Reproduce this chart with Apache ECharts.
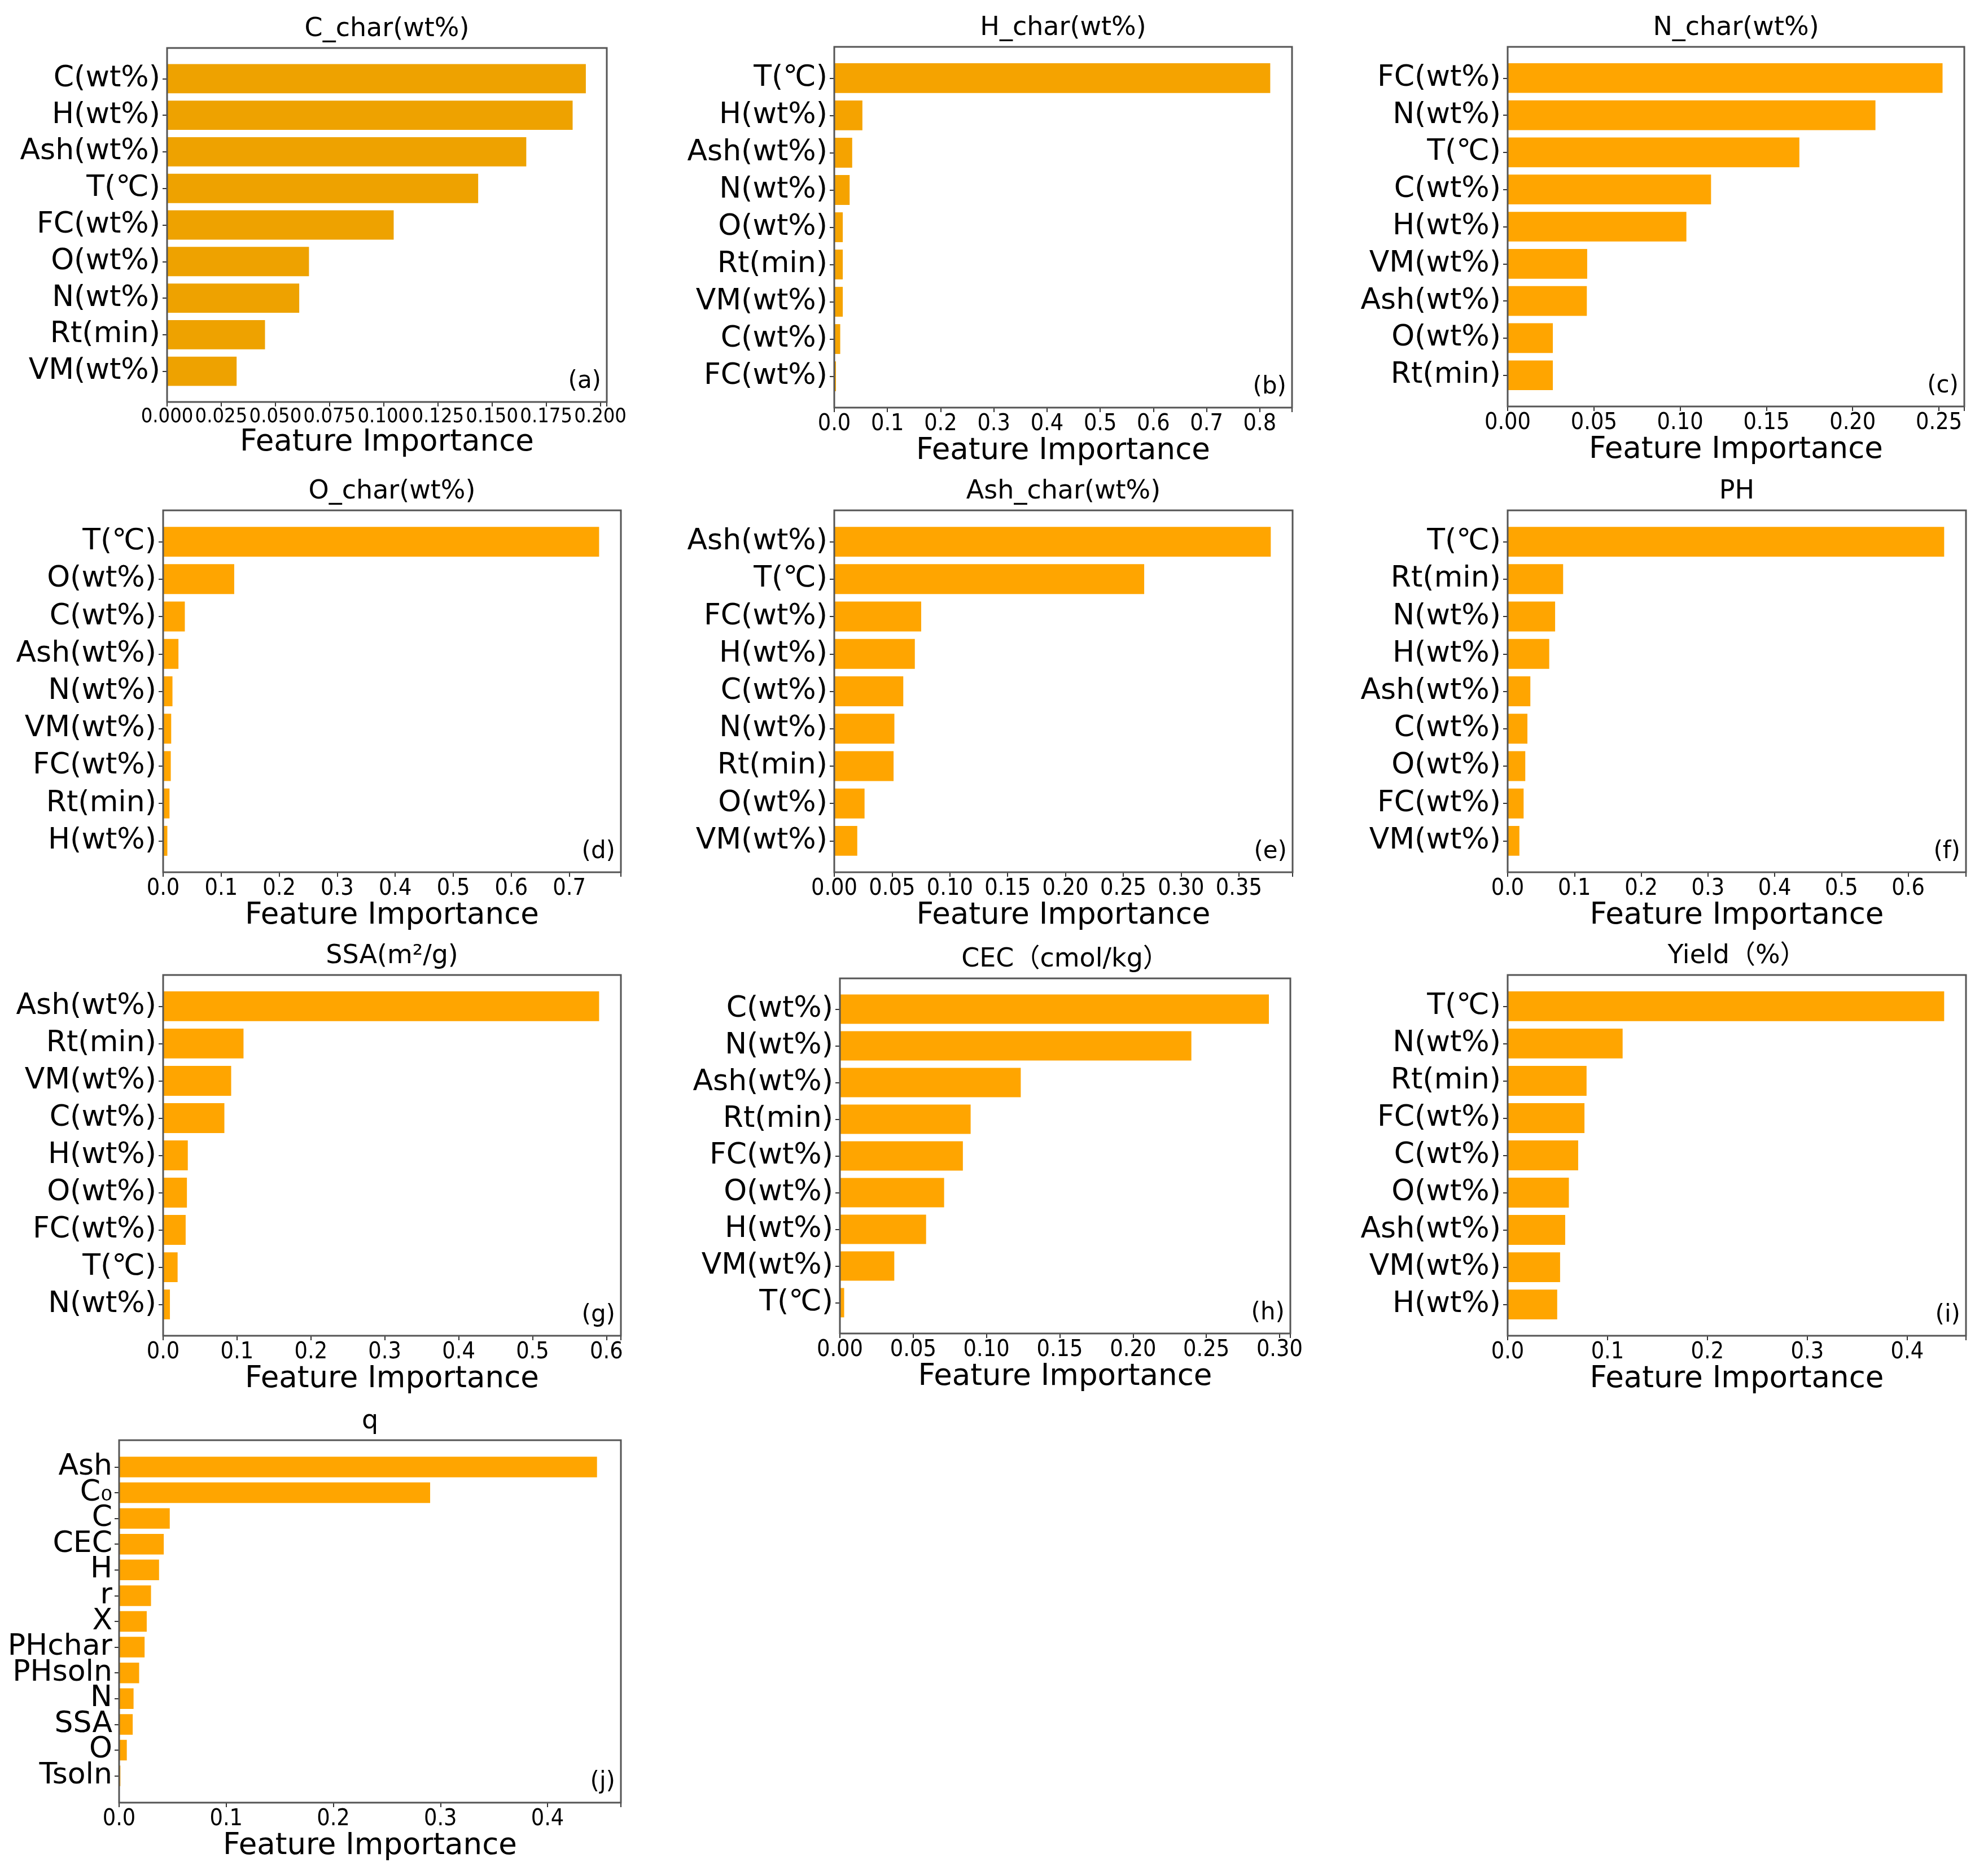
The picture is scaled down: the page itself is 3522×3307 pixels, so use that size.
<!DOCTYPE html>
<html>
<head>
<meta charset="utf-8">
<title>Feature Importance</title>
<script src="https://cdn.jsdelivr.net/npm/echarts@6.0.0/dist/echarts.min.js"></script>
<style>
html, body { margin: 0; padding: 0; background: #fff; }
#chart { width: 3522px; height: 3307px; }
</style>
</head>
<body>
<div id="chart"></div>
<script>
// 子图标题和编号
const panelTitles = ['C_char(wt%)', 'H_char(wt%)', 'N_char(wt%)', 'O_char(wt%)', 'Ash_char(wt%)', 'PH', 'SSA(m²/g)', 'CEC（cmol/kg）', 'Yield（%）', 'q'];
const panelTags = ['(a)', '(b)', '(c)', '(d)', '(e)', '(f)', '(g)', '(h)', '(i)', '(j)'];

// (a) C_char
const cCharFeatures = ['C(wt%)', 'H(wt%)', 'Ash(wt%)', 'T(℃)', 'FC(wt%)', 'O(wt%)', 'N(wt%)', 'Rt(min)', 'VM(wt%)'];
const cCharImportance = [0.1933, 0.1872, 0.1658, 0.1436, 0.1046, 0.0655, 0.0610, 0.0452, 0.0321];
// (b) H_char
const hCharFeatures = ['T(℃)', 'H(wt%)', 'Ash(wt%)', 'N(wt%)', 'O(wt%)', 'Rt(min)', 'VM(wt%)', 'C(wt%)', 'FC(wt%)'];
const hCharImportance = [0.8196, 0.0529, 0.0337, 0.0289, 0.0160, 0.0160, 0.0160, 0.0112, 0.0032];
// (c) N_char
const nCharFeatures = ['FC(wt%)', 'N(wt%)', 'T(℃)', 'C(wt%)', 'H(wt%)', 'VM(wt%)', 'Ash(wt%)', 'O(wt%)', 'Rt(min)'];
const nCharImportance = [0.2521, 0.2132, 0.1691, 0.1179, 0.1036, 0.0461, 0.0459, 0.0262, 0.0262];
// (d) O_char
const oCharFeatures = ['T(℃)', 'O(wt%)', 'C(wt%)', 'Ash(wt%)', 'N(wt%)', 'VM(wt%)', 'FC(wt%)', 'Rt(min)', 'H(wt%)'];
const oCharImportance = [0.7513, 0.1225, 0.0374, 0.0264, 0.0161, 0.0139, 0.0132, 0.0110, 0.0073];
// (e) Ash_char
const ashCharFeatures = ['Ash(wt%)', 'T(℃)', 'FC(wt%)', 'H(wt%)', 'C(wt%)', 'N(wt%)', 'Rt(min)', 'O(wt%)', 'VM(wt%)'];
const ashCharImportance = [0.3776, 0.2681, 0.0752, 0.0697, 0.0597, 0.0520, 0.0513, 0.0262, 0.0199];
// (f) PH
const phFeatures = ['T(℃)', 'Rt(min)', 'N(wt%)', 'H(wt%)', 'Ash(wt%)', 'C(wt%)', 'O(wt%)', 'FC(wt%)', 'VM(wt%)'];
const phImportance = [0.6539, 0.0831, 0.0711, 0.0623, 0.0340, 0.0296, 0.0264, 0.0239, 0.0176];
// (g) SSA
const ssaFeatures = ['Ash(wt%)', 'Rt(min)', 'VM(wt%)', 'C(wt%)', 'H(wt%)', 'O(wt%)', 'FC(wt%)', 'T(℃)', 'N(wt%)'];
const ssaImportance = [0.5901, 0.1088, 0.0921, 0.0829, 0.0334, 0.0322, 0.0305, 0.0196, 0.0092];
// (h) CEC
const cecFeatures = ['C(wt%)', 'N(wt%)', 'Ash(wt%)', 'Rt(min)', 'FC(wt%)', 'O(wt%)', 'H(wt%)', 'VM(wt%)', 'T(℃)'];
const cecImportance = [0.2927, 0.2398, 0.1234, 0.0892, 0.0839, 0.0711, 0.0588, 0.0371, 0.0029];
// (i) Yield
const yieldFeatures = ['T(℃)', 'N(wt%)', 'Rt(min)', 'FC(wt%)', 'C(wt%)', 'O(wt%)', 'Ash(wt%)', 'VM(wt%)', 'H(wt%)'];
const yieldImportance = [0.4370, 0.1151, 0.0790, 0.0769, 0.0706, 0.0613, 0.0576, 0.0525, 0.0496];
// (j) q
const qFeatures = ['Ash', 'C₀', 'C', 'CEC', 'H', 'r', 'X', 'PHchar', 'PHsoln', 'N', 'SSA', 'O', 'Tsoln'];
const qImportance = [0.4462, 0.2904, 0.0473, 0.0417, 0.0373, 0.0298, 0.0258, 0.0238, 0.0187, 0.0135, 0.0127, 0.0072, 0.0012];

// x轴刻度间隔和小数位数
const tickSteps = [0.025, 0.1, 0.05, 0.1, 0.05, 0.1, 0.1, 0.05, 0.1, 0.1];
const tickDigits = [3, 1, 2, 1, 2, 1, 1, 2, 1, 1];

const featureLists = [cCharFeatures, hCharFeatures, nCharFeatures, oCharFeatures, ashCharFeatures, phFeatures, ssaFeatures, cecFeatures, yieldFeatures, qFeatures];
const importanceLists = [cCharImportance, hCharImportance, nCharImportance, oCharImportance, ashCharImportance, phImportance, ssaImportance, cecImportance, yieldImportance, qImportance];

// 每个子图外框位置 [左, 上, 右, 下]
const panelBoxes = [
	[296, 85, 1075, 712], [1478, 83, 2289, 722], [2671, 83, 3480, 720],
	[289, 904, 1100, 1545], [1478, 904, 2290, 1545], [2671, 904, 3483, 1545],
	[289, 1727, 1100, 2366], [1488, 1733, 2286, 2362], [2671, 1727, 3483, 2366],
	[211, 2551, 1100, 3193]
];
const barColors = ['#EEA200', '#F5A300', '#FFA500', '#FFA500', '#FFA500', '#FFA500', '#FFA500', '#FFA500', '#FFA500', '#FFA500'];
// (a) 的刻度标签太挤, 字号稍小
const tickFontSizes = [36, 41, 41, 41, 41, 41, 41, 41, 41, 41];

const font = 'DejaVu Sans, Noto Sans CJK SC, sans-serif';
const tickFont = 'DejaVu Sans Condensed, DejaVu Sans, sans-serif';

let myChart = echarts.init(document.getElementById('chart'), null, { renderer: 'canvas' });
let option = {
	backgroundColor: '#fff',
	animation: false,
	title: [],
	grid: [],
	xAxis: [],
	yAxis: [],
	series: [],
	graphic: []
};

for (let i = 0; i < panelTitles.length; i++) {
	let [L, T, R, B] = panelBoxes[i];
	let n = featureLists[i].length;
	let maxVal = Math.max(...importanceLists[i]);
	let step = tickSteps[i];
	let digits = tickDigits[i];
	// 仿 matplotlib 的 barh 上下留白
	let total = 1.1 * (n - 0.2);
	let m = (B - T) * (0.05 * (n - 0.2) - 0.1) / total;

	option.title.push({
		text: panelTitles[i],
		left: (L + R) / 2,
		top: T - 56,
		textAlign: 'center',
		padding: 0,
		textStyle: { fontSize: 46, fontWeight: 'normal', color: '#000', fontFamily: font }
	});

	option.grid.push({
		left: L,
		top: T + m,
		width: R - L,
		height: B - T - 2 * m,
		outerBoundsMode: 'none'
	});

	option.xAxis.push({
		type: 'value',
		gridIndex: i,
		min: 0,
		max: maxVal * 1.05,
		interval: step,
		offset: m,
		name: 'Feature Importance',
		nameLocation: 'middle',
		nameGap: 30,
		nameTextStyle: { fontSize: 53, color: '#000', fontFamily: font },
		axisLine: { show: false },
		axisTick: { show: true, length: 8, lineStyle: { color: '#333', width: 2 } },
		axisLabel: {
			fontSize: tickFontSizes[i],
			color: '#000',
			fontFamily: tickFont,
			margin: 9,
			showMinLabel: true,
			hideOverlap: false,
			formatter: function(v) {
				let k = v / step;
				return Math.abs(k - Math.round(k)) < 1e-6 ? v.toFixed(digits) : '';
			}
		},
		splitLine: { show: false }
	});

	option.yAxis.push({
		type: 'category',
		gridIndex: i,
		inverse: true,
		data: featureLists[i],
		axisLine: { show: false },
		axisTick: { show: true, alignWithLabel: true, length: 8, lineStyle: { color: '#333', width: 2 } },
		axisLabel: { interval: 0, fontSize: 52, color: '#000', fontFamily: font, margin: 12, hideOverlap: false },
		splitLine: { show: false }
	});

	option.series.push({
		type: 'bar',
		xAxisIndex: i,
		yAxisIndex: i,
		data: importanceLists[i],
		barWidth: '80%',
		silent: true,
		itemStyle: { color: barColors[i] }
	});

	// 外框
	option.graphic.push({
		type: 'rect',
		z: 100,
		silent: true,
		shape: { x: L, y: T, width: R - L, height: B - T },
		style: { fill: 'none', stroke: '#555', lineWidth: 3 }
	});
	// 子图编号
	option.graphic.push({
		type: 'text',
		z: 100,
		silent: true,
		x: R - 10,
		y: B - 36,
		style: { text: panelTags[i], fontSize: 42, fontFamily: font, fill: '#000', align: 'right', verticalAlign: 'middle' }
	});
}

myChart.setOption(option);
</script>
</body>
</html>
